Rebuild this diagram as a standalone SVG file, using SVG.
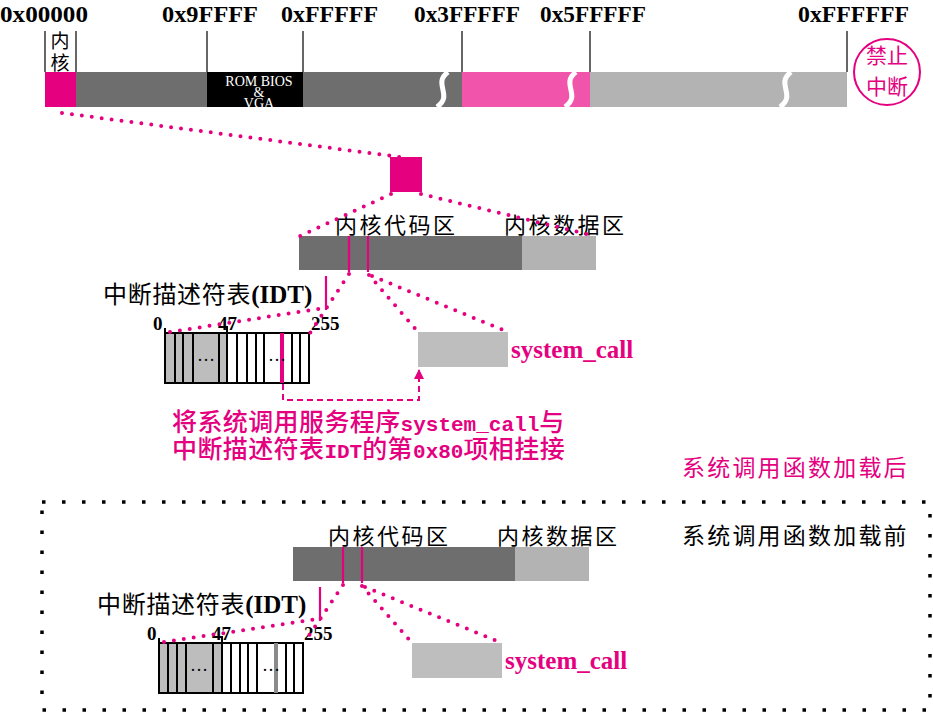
<svg xmlns="http://www.w3.org/2000/svg" width="933" height="715" viewBox="0 0 933 715">
<defs>
<style>
.addr{font-family:"Liberation Serif",serif;font-weight:bold;font-size:23px;fill:#000}
.lbl{font-family:"Noto Sans CJK SC",sans-serif;font-size:22px;fill:#000;letter-spacing:2.5px}
.num{font-family:"Liberation Serif",serif;font-weight:bold;font-size:19px;fill:#000}
.sc{font-family:"Liberation Serif",serif;font-weight:bold;font-size:25px;fill:#e4007f}
.ell{font-family:"Liberation Serif",serif;font-size:18px;fill:#000}
.tick{stroke:#000;stroke-width:1.2}
.dot{fill:none;stroke:#e4007f;stroke-width:4;stroke-linecap:round;stroke-dasharray:0 10}
.cell{stroke:#000;stroke-width:2}
.dark{fill:#6e6e6e}
.light{fill:#b3b3b3}
.brk{fill:none;stroke:#fff;stroke-width:5}
.mag{stroke:#e4007f;stroke-width:2.2}
.cap{font-family:"Noto Sans CJK SC",sans-serif;font-size:25px;font-weight:500;letter-spacing:0.4px}
.capm{font-family:"Liberation Mono",monospace;font-weight:bold;font-size:21px;letter-spacing:0}
</style>
<marker id="ah" viewBox="0 0 10 10" refX="9" refY="5" markerWidth="5" markerHeight="5" orient="auto">
<path d="M0,0 L10,5 L0,10 z" fill="#e4007f"/>
</marker>
</defs>
<rect width="933" height="715" fill="#fff"/>

<g id="memory-bar">
<rect x="45" y="72" width="31" height="35" fill="#e4007f"/>
<rect x="76" y="72" width="386" height="35" class="dark"/>
<rect x="207" y="72" width="96" height="35" fill="#000"/>
<rect x="462" y="72" width="128" height="35" fill="#f155ab"/>
<rect x="590" y="72" width="257" height="35" class="light"/>
<path class="brk" d="M448 72 C432 84 454 95 437 107"/>
<path class="brk" d="M576 72 C560 84 582 95 565 107"/>
<path class="brk" d="M791 72 C775 84 797 95 780 107"/>
<line class="tick" x1="45" y1="31" x2="45" y2="72"/>
<line class="tick" x1="76" y1="31" x2="76" y2="72"/>
<line class="tick" x1="207" y1="31" x2="207" y2="72"/>
<line class="tick" x1="303" y1="31" x2="303" y2="72"/>
<line class="tick" x1="462" y1="31" x2="462" y2="72"/>
<line class="tick" x1="590" y1="31" x2="590" y2="72"/>
<line class="tick" x1="847" y1="31" x2="847" y2="72"/>
<text class="addr" x="0" y="22" textLength="88" lengthAdjust="spacingAndGlyphs">0x00000</text>
<text class="addr" x="162" y="22" textLength="96" lengthAdjust="spacingAndGlyphs">0x9FFFF</text>
<text class="addr" x="281" y="22" textLength="97" lengthAdjust="spacingAndGlyphs">0xFFFFF</text>
<text class="addr" x="414" y="22" textLength="106" lengthAdjust="spacingAndGlyphs">0x3FFFFF</text>
<text class="addr" x="540" y="22" textLength="106" lengthAdjust="spacingAndGlyphs">0x5FFFFF</text>
<text class="addr" x="798" y="22" textLength="111" lengthAdjust="spacingAndGlyphs">0xFFFFFF</text>
<text font-family="Noto Sans CJK SC, sans-serif" font-size="19" text-anchor="middle"><tspan x="60" y="48">内</tspan><tspan x="60" y="70">核</tspan></text>
<text font-family="Liberation Serif, serif" font-size="14" fill="#fff" text-anchor="middle"><tspan x="259" y="86">ROM BIOS</tspan><tspan x="259" y="97">&amp;</tspan><tspan x="259" y="108">VGA</tspan></text>
</g>

<g id="no-interrupt">
<circle cx="887" cy="72" r="33" fill="none" stroke="#e4007f" stroke-width="2"/>
<text font-family="Noto Sans CJK SC, sans-serif" font-size="21" fill="#e4007f" text-anchor="middle"><tspan x="887" y="63">禁止</tspan><tspan x="887" y="94">中断</tspan></text>
</g>

<g id="kernel-zoom">
<rect x="390" y="157" width="32" height="35" fill="#e4007f"/>
</g>

<g id="kernel-mem-after">
<rect x="299" y="236" width="223" height="34" class="dark"/>
<rect x="522" y="236" width="74" height="34" class="light"/>
<line class="mag" x1="349" y1="236" x2="349" y2="272"/>
<line class="mag" x1="368" y1="236" x2="368" y2="272"/>
<text class="lbl" x="335" y="233">内核代码区</text>
<text class="lbl" x="504" y="233">内核数据区</text>
</g>

<g id="idt-after">
<text x="103" y="303"><tspan font-family="Noto Sans CJK SC, sans-serif" font-size="24" letter-spacing="0.7">中断描述符表</tspan><tspan font-family="Liberation Serif, serif" font-weight="bold" font-size="25">(IDT)</tspan></text>
<line class="mag" x1="326" y1="276" x2="326" y2="310"/>
<rect x="165" y="333" width="62" height="50" fill="#bdbdbd"/>
<rect x="165" y="333" width="144" height="50" fill="none" class="cell"/>
<g class="cell">
<line x1="175" y1="333" x2="175" y2="383"/>
<line x1="183" y1="333" x2="183" y2="383"/>
<line x1="193" y1="333" x2="193" y2="383"/>
<line x1="219" y1="333" x2="219" y2="383"/>
<line x1="227" y1="326" x2="227" y2="383"/>
<line x1="237" y1="333" x2="237" y2="383"/>
<line x1="247" y1="333" x2="247" y2="383"/>
<line x1="256" y1="333" x2="256" y2="383"/>
<line x1="264" y1="333" x2="264" y2="383"/>
<line x1="292" y1="333" x2="292" y2="383"/>
<line x1="300" y1="333" x2="300" y2="383"/>
<line x1="165" y1="328" x2="165" y2="333"/>
</g>
<line x1="282" y1="333" x2="282" y2="383" stroke="#e4007f" stroke-width="4"/>
<text class="ell" x="197" y="361">…</text>
<text class="ell" x="268" y="361">…</text>
<text class="num" x="153" y="330">0</text>
<text class="num" x="218" y="330">47</text>
<text class="num" x="311" y="330">255</text>
</g>

<g id="syscall-after">
<rect x="418" y="332" width="90" height="35" fill="#bebebe"/>
<text class="sc" x="511" y="358">system_call</text>
</g>

<g id="caption" fill="#e4007f">
<text><tspan class="cap" x="172" y="431">将系统调用服务程序</tspan><tspan class="capm">system_call</tspan><tspan class="cap">与</tspan><tspan class="cap" x="172" y="458">中断描述符表</tspan><tspan class="capm">IDT</tspan><tspan class="cap">的第</tspan><tspan class="capm">0x80</tspan><tspan class="cap">项相挂接</tspan></text>
</g>

<g id="label-after">
<text font-family="Noto Sans CJK SC, sans-serif" font-size="23" letter-spacing="2.2" fill="#e4007f" x="682" y="476">系统调用函数加载后</text>
</g>

<g id="before-frame">
<rect x="42" y="502" width="888" height="208" fill="none" stroke="#000" stroke-width="3.5" stroke-dasharray="3.5 16.5"/>
<text font-family="Noto Sans CJK SC, sans-serif" font-size="23" letter-spacing="2.2" fill="#000" x="682" y="544">系统调用函数加载前</text>
</g>

<g id="kernel-mem-before">
<rect x="293" y="547" width="222" height="34" class="dark"/>
<rect x="515" y="547" width="74" height="34" class="light"/>
<line class="mag" x1="343" y1="547" x2="343" y2="583"/>
<line class="mag" x1="362" y1="547" x2="362" y2="583"/>
<text class="lbl" x="328" y="544">内核代码区</text>
<text class="lbl" x="497" y="544">内核数据区</text>
</g>

<g id="idt-before">
<text x="97" y="613"><tspan font-family="Noto Sans CJK SC, sans-serif" font-size="24" letter-spacing="0.7">中断描述符表</tspan><tspan font-family="Liberation Serif, serif" font-weight="bold" font-size="25">(IDT)</tspan></text>
<line class="mag" x1="320" y1="587" x2="320" y2="621"/>
<rect x="159" y="643" width="63" height="50" fill="#bdbdbd"/>
<rect x="159" y="643" width="144" height="50" fill="none" class="cell"/>
<g class="cell">
<line x1="168" y1="643" x2="168" y2="693"/>
<line x1="177" y1="643" x2="177" y2="693"/>
<line x1="186" y1="643" x2="186" y2="693"/>
<line x1="213" y1="643" x2="213" y2="693"/>
<line x1="222" y1="636" x2="222" y2="693"/>
<line x1="231" y1="643" x2="231" y2="693"/>
<line x1="240" y1="643" x2="240" y2="693"/>
<line x1="248" y1="643" x2="248" y2="693"/>
<line x1="257" y1="643" x2="257" y2="693"/>
<line x1="286" y1="643" x2="286" y2="693"/>
<line x1="294" y1="643" x2="294" y2="693"/>
<line x1="159" y1="638" x2="159" y2="643"/>
</g>
<line x1="276" y1="643" x2="276" y2="693" stroke="#8a8a8a" stroke-width="4"/>
<text class="ell" x="190" y="671">…</text>
<text class="ell" x="262" y="671">…</text>
<text class="num" x="147" y="640">0</text>
<text class="num" x="212" y="640">47</text>
<text class="num" x="304" y="640">255</text>
</g>

<g id="syscall-before">
<rect x="412" y="643" width="90" height="35" fill="#bebebe"/>
<text class="sc" x="505" y="669">system_call</text>
</g>

<g id="connectors">
<line class="dot" x1="62" y1="113" x2="400" y2="157"/>
<line class="dot" x1="391" y1="194" x2="300" y2="236"/>
<line class="dot" x1="421" y1="194" x2="595" y2="236"/>
<line class="dot" x1="349" y1="274" x2="310" y2="333"/>
<line class="dot" x1="170" y1="332" x2="324" y2="308"/>
<line class="dot" x1="369" y1="275" x2="418" y2="332"/>
<line class="dot" x1="372" y1="276" x2="508" y2="332"/>
<path d="M283 384 V400 H419 V370" fill="none" stroke="#e4007f" stroke-width="2" stroke-dasharray="6 4" marker-end="url(#ah)"/>
<line class="dot" x1="343" y1="585" x2="304" y2="643"/>
<line class="dot" x1="164" y1="642" x2="318" y2="619"/>
<line class="dot" x1="362" y1="586" x2="412" y2="643"/>
<line class="dot" x1="365" y1="587" x2="502" y2="643"/>
</g>
</svg>
